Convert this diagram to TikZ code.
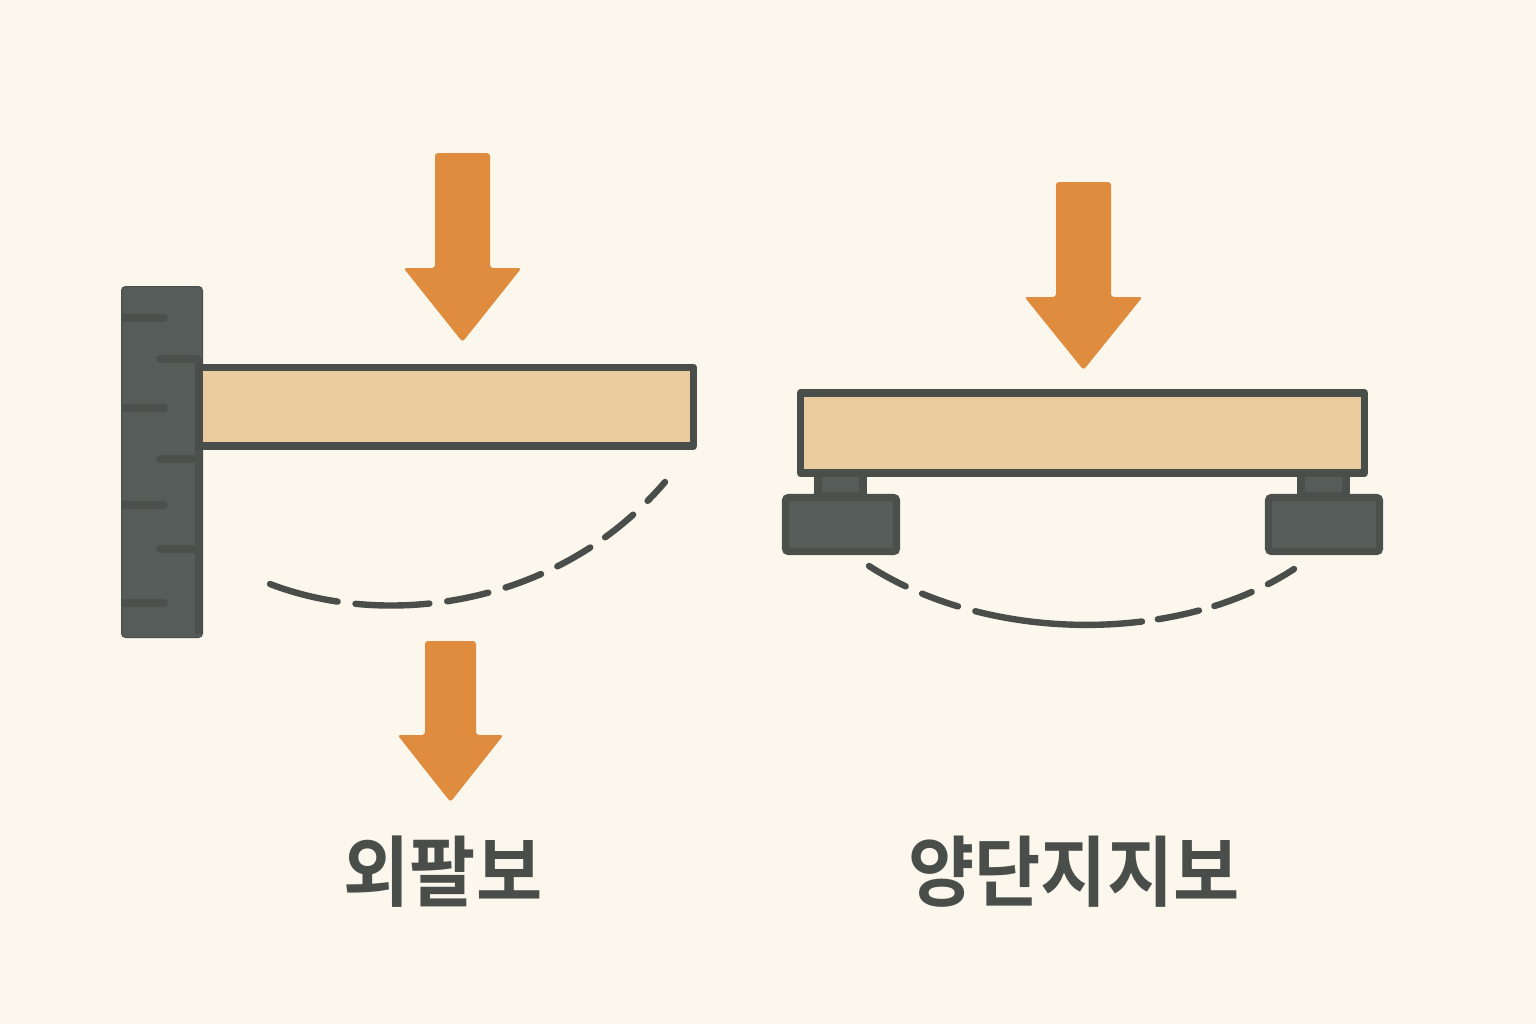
\documentclass[tikz,border=0pt]{standalone}
\usepackage{fontspec}
\newfontfamily\krfont{Noto Sans CJK KR Bold}
\definecolor{paper}{HTML}{FCF7EC}
\definecolor{load}{HTML}{E08C3E}
\definecolor{wood}{HTML}{E9CB9D}
\definecolor{ink}{HTML}{4A4E4B}
\definecolor{steel}{HTML}{565C59}
\definecolor{groove}{HTML}{4B504D}
\tikzset{
  beam/.style={draw=ink,fill=wood,line width=3.9pt,line join=round},
  padbox/.style={draw=groove,fill=steel,line width=3.6pt,rounded corners=1.5pt},
  tick/.style={groove,line width=3.8pt,line cap=round},
  sag/.style={ink,line width=3.2pt,line cap=round},
  caption/.style={text=ink,font=\krfont\fontsize{36}{36}\selectfont,inner sep=0pt,yscale=1.07,transform shape}
}
\begin{document}
\begin{tikzpicture}[x=0.5pt,y=-0.5pt]
  \useasboundingbox (0,0) rectangle (1536,1024);
  \fill[paper] (0,0) rectangle (1536,1024);
  % wall
  \fill[steel,draw=ink,line width=0.5pt,rounded corners=2pt] (121.5,286.5) rectangle (202.5,637.5);
  \fill[groove] (195,358) rectangle (202.5,634);
  \begin{scope}
    \clip (122,287) rectangle (202,637);
    \foreach \y in {318,408,505,603}{
      \draw[tick] (118,\y) -- (164,\y);}
  \end{scope}
  \foreach \y in {359,459,549}{
    \draw[tick] (160,\y) -- (197,\y);}
  % beams
  \draw[beam] (199,367.5) rectangle (693.5,446);
  \draw[beam] (800.5,393) rectangle (1364.5,473);
  % supports: {post left}{block left}
  \foreach \p/\b in {814/782,1297/1265}{
    \fill[groove] (\p,476) rectangle ++(53,20);
    \fill[steel] (\p+8,477) rectangle ++(37,15);
    \draw[padbox] (\b+3.5,497.5) rectangle ++(111,54);
  }
  % loads: {x}{top}{neck}{tip}{half shaft}{half head}
  \foreach \x/\t/\n/\e/\s/\h in {462.5/153/268/342/27.5/59,1083.5/182/297/370/27.5/59,450.5/641/735/802/25.5/53}{
    \fill[load,rounded corners=1.5pt] (\x-\s,\t) -- (\x+\s,\t) -- (\x+\s,\n) -- (\x+\h,\n)
      -- (\x,\e) -- (\x-\h,\n) -- (\x-\s,\n) -- cycle;
  }
  % deflection curves
  \draw[sag,dash pattern=on 35pt off 9pt on 37pt off 9pt on 21pt off 9pt on 19pt off 9pt on 19pt off 9pt on 18pt off 10pt on 18pt]
    (270,584) .. controls (390,630) and (560,605) .. (665,482);
  \draw[sag,dash pattern=on 21pt off 9pt on 19pt off 9pt on 84pt off 8pt on 21pt off 8pt on 20pt off 9pt on 20pt]
    (869,566) .. controls (990,644) and (1180,644) .. (1294,569);
  % captions
  \node[caption] (cantilever) at (443,872) {외팔보};
  \node[caption] (simple) at (1074,872) {양단지지보};
\end{tikzpicture}
\end{document}
